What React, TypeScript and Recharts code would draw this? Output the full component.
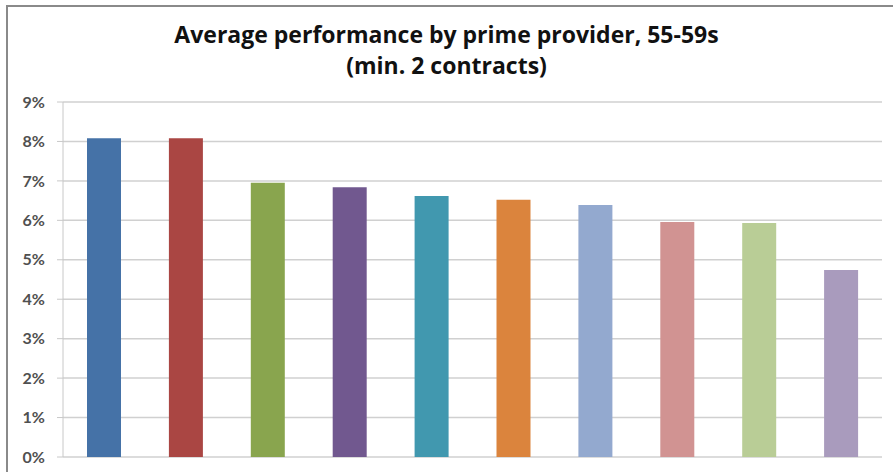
import { BarChart, Bar, XAxis, YAxis, CartesianGrid, Cell } from "recharts";

const providers = [
  "Provider 1",
  "Provider 2",
  "Provider 3",
  "Provider 4",
  "Provider 5",
  "Provider 6",
  "Provider 7",
  "Provider 8",
  "Provider 9",
  "Provider 10",
];
const performance = [0.0808, 0.0808, 0.0695, 0.0684, 0.0662, 0.0652, 0.0639, 0.0596, 0.0593, 0.0474];
const barColors = [
  "#4572A7",
  "#AA4643",
  "#89A54E",
  "#71588F",
  "#4198AF",
  "#DB843D",
  "#93A9CF",
  "#D19392",
  "#B9CD96",
  "#A99BBD",
];
const yTicks = [0, 0.01, 0.02, 0.03, 0.04, 0.05, 0.06, 0.07, 0.08, 0.09];

const data = providers.map((name, i) => ({ name, value: performance[i] }));

export default function App() {
  return (
    <div
      style={{
        position: "absolute",
        left: 0,
        top: 0,
        width: 893,
        height: 472,
        background: "#fff",
        overflow: "hidden",
        fontFamily: "Lato, sans-serif",
      }}
    >
      {/* chart area frame, only top and left edges are visible in the crop */}
      <div
        style={{
          position: "absolute",
          left: 6,
          top: 5,
          width: 900,
          height: 480,
          borderTop: "2px solid #8a8a8a",
          borderLeft: "2px solid #8a8a8a",
        }}
      />
      <div
        style={{
          position: "absolute",
          left: 0,
          width: 893,
          top: 19,
          textAlign: "center",
          fontFamily: "'Open Sans', sans-serif",
          fontWeight: 700,
          fontSize: 23,
          lineHeight: "31px",
          color: "#111",
        }}
      >
        <div>Average performance by prime provider, 55-59s</div>
        <div>(min. 2 contracts)</div>
      </div>
      <BarChart
        width={893}
        height={472}
        data={data}
        margin={{ top: 102, right: 11, bottom: 15, left: 0 }}
        style={{ position: "absolute", left: 0, top: 0 }}
      >
        <CartesianGrid vertical={false} stroke="#d0d0d0" strokeWidth={1.5} />
        <XAxis dataKey="name" hide />
        <YAxis
          width={63}
          domain={[0, 0.09]}
          ticks={yTicks}
          tickFormatter={(v) => `${Math.round(v * 100)}%`}
          tick={{ fontSize: 16, fill: "#505050", fontWeight: 700, fontFamily: "Lato, sans-serif" }}
          tickSize={6}
          tickMargin={12}
          tickLine={{ stroke: "#c8c8c8" }}
          axisLine={{ stroke: "#c8c8c8" }}
        />
        <Bar dataKey="value" barSize={34} isAnimationActive={false}>
          {data.map((d, i) => (
            <Cell key={d.name} fill={barColors[i]} />
          ))}
        </Bar>
      </BarChart>
    </div>
  );
}
